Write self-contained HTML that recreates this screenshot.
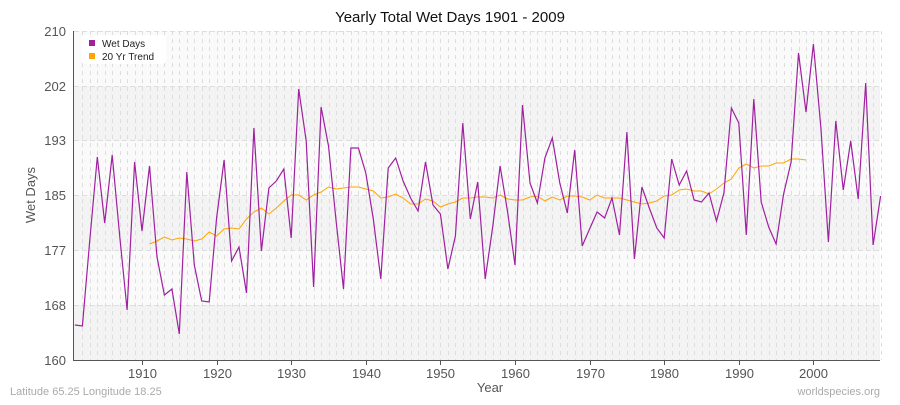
<!DOCTYPE html>
<html><head><meta charset="utf-8"><style>
body{margin:0;background:#fff;}
svg{font-family:"Liberation Sans",sans-serif;}
</style></head><body>
<svg id="s" width="900" height="400" xmlns="http://www.w3.org/2000/svg">
<rect x="0" y="0" width="900" height="400" fill="#fff"/>
<rect x="74" y="31" width="806" height="329" fill="#fafafa"/>
<rect x="74" y="86" width="806" height="54.8" fill="#f3f3f3"/>
<rect x="74" y="195.5" width="806" height="54.8" fill="#f3f3f3"/>
<rect x="74" y="305" width="806" height="55" fill="#f3f3f3"/>
<g id="vg" stroke="#dddddd" stroke-dasharray="4,4" stroke-width="1"></g>
<g stroke="#dddddd" stroke-dasharray="5,3" stroke-width="1">
<line x1="74" x2="880" y1="31.5" y2="31.5"/><line x1="74" x2="880" y1="86.5" y2="86.5"/>
<line x1="74" x2="880" y1="140.5" y2="140.5"/><line x1="74" x2="880" y1="195.5" y2="195.5"/>
<line x1="74" x2="880" y1="250.5" y2="250.5"/><line x1="74" x2="880" y1="305.5" y2="305.5"/>
</g>
<line x1="73.5" y1="31" x2="73.5" y2="360" stroke="#555"/>
<line x1="73" y1="360.5" x2="880" y2="360.5" stroke="#555"/>
<g id="tk" stroke="#555"></g>
<g font-size="13" fill="#555" text-anchor="end">
<text x="66" y="36">210</text><text x="66" y="91">202</text><text x="66" y="145">193</text>
<text x="66" y="200">185</text><text x="66" y="255">177</text><text x="66" y="310">168</text><text x="66" y="365">160</text>
</g>
<g id="xl" font-size="13" fill="#555" text-anchor="middle"></g>
<text x="450" y="22" font-size="15" text-anchor="middle" fill="#111">Yearly Total Wet Days 1901 - 2009</text>
<text x="490" y="392" font-size="13" text-anchor="middle" fill="#555">Year</text>
<text x="35" y="195" font-size="13" text-anchor="middle" fill="#555" transform="rotate(-90 35 195)">Wet Days</text>
<text x="10" y="395" font-size="11" fill="#aaa">Latitude 65.25 Longitude 18.25</text>
<text x="880" y="395" font-size="11" fill="#aaa" text-anchor="end">worldspecies.org</text>
<polyline id="tr" fill="none" stroke="#ffa500" stroke-width="1"/>
<polyline id="wd" fill="none" stroke="#a020a0" stroke-width="1.2"/>
<rect x="81" y="35" width="85" height="29" rx="4" fill="#fff" opacity="0.9"/>
<rect x="89" y="40" width="6" height="6" fill="#a020a0"/>
<rect x="89" y="53" width="6" height="6" fill="#ffa500"/>
<text x="102" y="47" font-size="10" fill="#222">Wet Days</text>
<text x="102" y="60" font-size="10" fill="#222">20 Yr Trend</text>
</svg>
<script>
var X=function(y){return 74.9+(y-1901)*7.46;};
var wd=[325,326,240,157,223,155,236,310,162,231,166,257,295,289,334,172,265,301,302,218,160,261,247,293,128,251,188,181,169,238,89,141,287,107,146,220,289,148,148,173,219,279,168,158,181,198,211,162,205,214,269,236,123,219,182,279,227,166,212,265,105,183,203,158,138,183,213,150,246,229,212,218,198,235,132,259,187,208,228,238,159,185,171,200,202,193,221,193,108,123,235,99,202,227,244,194,162,53,112,44,128,242,121,190,141,199,83,245,196];
var tr=[244,241,237,240,238,239,241,239,232,236,229,228,229,219,212,208,214,208,201,195,195,200,195,192,187,189,188,187,187,189,191,198,197,194,198,204,204,199,201,207,204,202,198,198,197,197,198,195,199,200,200,197,196,201,197,200,196,196,197,200,195,198,198,198,200,202,204,203,201,196,195,190,189,191,191,194,189,183,179,168,164,168,166,166,163,163,159,159,160];
var p=[];wd.forEach(function(v,i){p.push(X(1901+i).toFixed(1)+","+v);});
document.getElementById('wd').setAttribute('points',p.join(' '));
var q=[];tr.forEach(function(v,i){q.push(X(1911+i).toFixed(1)+","+v);});
document.getElementById('tr').setAttribute('points',q.join(' '));
var ns="http://www.w3.org/2000/svg",vg=document.getElementById('vg'),tk=document.getElementById('tk'),xl=document.getElementById('xl');
for(var y=1902;y<=2009;y++){var l=document.createElementNS(ns,'line');var x=Math.round(X(y))+0.5;l.setAttribute('x1',x);l.setAttribute('x2',x);l.setAttribute('y1',31);l.setAttribute('y2',360);vg.appendChild(l);}
for(var y=1910;y<=2000;y+=10){var x=Math.round(X(y))+0.5;var l=document.createElementNS(ns,'line');l.setAttribute('x1',x);l.setAttribute('x2',x);l.setAttribute('y1',360);l.setAttribute('y2',365);tk.appendChild(l);var t=document.createElementNS(ns,'text');t.setAttribute('x',x);t.setAttribute('y',378);t.textContent=y;xl.appendChild(t);}
</script>
</body></html>
